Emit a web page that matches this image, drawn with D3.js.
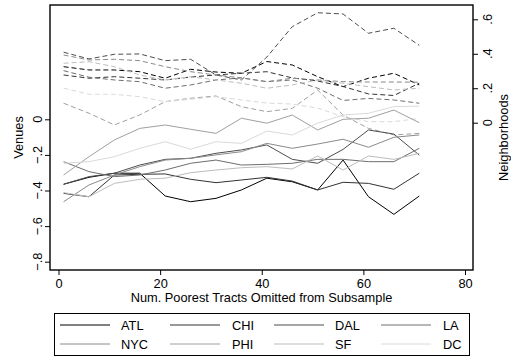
<!DOCTYPE html>
<html>
<head>
<meta charset="utf-8">
<script src="https://cdn.jsdelivr.net/npm/d3@7"></script>
<style>
  html, body { margin: 0; padding: 0; background: #fff; }
  svg { display: block; font-family: "Liberation Sans", Arial, Helvetica, sans-serif; }
</style>
</head>
<body>
<svg id="chart" width="511" height="358"></svg>
<script>
// Number of poorest tracts omitted from the subsample
const omitted = [1, 6, 11, 16, 21, 26, 31, 36, 41, 46, 51, 56, 61, 66, 71];

const cities = ["ATL", "CHI", "DAL", "LA", "NYC", "PHI", "SF", "DC"];
const cityColors = ["#000000", "#333333", "#4d4d4d", "#6e6e6e", "#8a8a8a", "#a0a0a0", "#bdbdbd", "#dadada"];

// Venue coefficients (left axis), one array per city
const venuesATL = [-0.365, -0.326, -0.303, -0.303, -0.431, -0.463, -0.444, -0.397, -0.331, -0.351, -0.397, -0.229, -0.435, -0.534, -0.431];
const venuesCHI = [-0.416, -0.435, -0.313, -0.309, -0.307, -0.337, -0.356, -0.341, -0.326, -0.347, -0.397, -0.354, -0.360, -0.393, -0.303];
const venuesDAL = [-0.365, -0.322, -0.303, -0.257, -0.225, -0.219, -0.191, -0.172, -0.144, -0.225, -0.247, -0.169, -0.060, -0.083, -0.201];
const venuesLA  = [-0.238, -0.294, -0.322, -0.313, -0.285, -0.247, -0.229, -0.257, -0.253, -0.247, -0.225, -0.225, -0.238, -0.238, -0.163];
const venuesNYC = [-0.463, -0.369, -0.313, -0.266, -0.229, -0.219, -0.200, -0.182, -0.135, -0.163, -0.139, -0.112, -0.157, -0.101, -0.088];
const venuesPHI = [-0.313, -0.210, -0.116, -0.051, -0.032, -0.056, -0.079, 0.006, -0.022, 0.024, -0.060, 0.000, 0.006, 0.052, -0.019];
const venuesSF  = [-0.412, -0.435, -0.360, -0.337, -0.331, -0.300, -0.285, -0.272, -0.266, -0.279, -0.206, -0.285, -0.206, -0.225, -0.191];
const venuesDC  = [-0.247, -0.238, -0.210, -0.163, -0.126, -0.168, -0.126, -0.135, -0.066, -0.088, -0.022, 0.024, 0.034, 0.071, 0.074];

// Neighborhood coefficients (right axis), one array per city
const hoodsATL = [0.325, 0.306, 0.306, 0.296, 0.258, 0.310, 0.294, 0.287, 0.355, 0.335, 0.267, 0.209, 0.258, 0.287, 0.219];
const hoodsCHI = [0.277, 0.258, 0.267, 0.258, 0.248, 0.265, 0.277, 0.287, 0.296, 0.260, 0.242, 0.210, 0.167, 0.158, 0.229];
const hoodsDAL = [0.409, 0.370, 0.397, 0.399, 0.360, 0.368, 0.277, 0.248, 0.381, 0.557, 0.638, 0.631, 0.519, 0.548, 0.449];
const hoodsLA  = [0.302, 0.264, 0.248, 0.238, 0.200, 0.219, 0.248, 0.260, 0.238, 0.248, 0.200, 0.129, 0.141, 0.132, 0.113];
const hoodsNYC = [0.393, 0.364, 0.368, 0.360, 0.325, 0.296, 0.277, 0.260, 0.238, 0.258, 0.248, 0.238, 0.236, 0.236, 0.235];
const hoodsPHI = [0.113, 0.055, -0.013, 0.045, 0.122, 0.142, 0.155, 0.093, 0.064, 0.083, 0.190, 0.044, -0.033, -0.071, -0.062];
const hoodsSF  = [0.345, 0.354, 0.325, 0.277, 0.248, 0.267, 0.248, 0.229, 0.200, 0.219, 0.248, 0.229, 0.209, 0.190, 0.200];
const hoodsDC  = [0.200, 0.165, 0.165, 0.151, 0.122, 0.136, 0.151, 0.132, 0.114, 0.108, 0.085, 0.035, 0.006, 0.006, 0.025];

const venues = [venuesATL, venuesCHI, venuesDAL, venuesLA, venuesNYC, venuesPHI, venuesSF, venuesDC];
const hoods  = [hoodsATL, hoodsCHI, hoodsDAL, hoodsLA, hoodsNYC, hoodsPHI, hoodsSF, hoodsDC];

const xTicks = [0, 20, 40, 60, 80];
const leftTicks = [-0.8, -0.6, -0.4, -0.2, 0];
const rightTicks = [0, 0.2, 0.4, 0.6];
const fmt = v => v === 0 ? "0" : d3.format(".1f")(v).replace("0.", ".");

const svg = d3.select("#chart");
const plot = { left: 50, right: 473, top: 5, bottom: 270 };

const x = d3.scaleLinear().domain([0, 80]).range([58.5, 465]);
const yL = d3.scaleLinear().domain([-0.8, 0]).range([261.7, 119.3]);
const yR = d3.scaleLinear().domain([0, 0.6]).range([122.7, 19.3]);

const font = 12.8;

// Series lines: neighborhoods dashed (right axis), venues solid (left axis)
const gLines = svg.append("g");
hoods.forEach((vals, i) => {
  const line = d3.line().x((d, j) => x(omitted[j])).y(d => yR(d));
  gLines.append("path").datum(vals)
    .attr("d", line).attr("fill", "none")
    .attr("stroke", cityColors[i]).attr("stroke-width", 1)
    .attr("stroke-dasharray", "5,3");
});
venues.forEach((vals, i) => {
  const line = d3.line().x((d, j) => x(omitted[j])).y(d => yL(d));
  gLines.append("path").datum(vals)
    .attr("d", line).attr("fill", "none")
    .attr("stroke", cityColors[i]).attr("stroke-width", 1);
});

// Plot frame
svg.append("rect")
  .attr("x", plot.left).attr("y", plot.top)
  .attr("width", plot.right - plot.left).attr("height", plot.bottom - plot.top)
  .attr("fill", "none").attr("stroke", "#000").attr("stroke-width", 1.4);

// Bottom axis
const xAxis = svg.append("g").attr("transform", `translate(0,${plot.bottom})`)
  .call(d3.axisBottom(x).tickValues(xTicks).tickSize(5).tickPadding(4).tickFormat(d3.format("d")));
xAxis.select(".domain").remove();
xAxis.selectAll("text").attr("font-size", font).attr("fill", "#000").style("font-family", "Liberation Sans, Arial, sans-serif");
xAxis.selectAll("line").attr("stroke", "#000");

// Left axis (rotated labels)
const lAxis = svg.append("g").attr("transform", `translate(${plot.left},0)`)
  .call(d3.axisLeft(yL).tickValues(leftTicks).tickSize(5).tickFormat(""));
lAxis.select(".domain").remove();
lAxis.selectAll("line").attr("stroke", "#000");
svg.append("g").selectAll("text").data(leftTicks).join("text")
  .attr("transform", d => `translate(37,${yL(d)}) rotate(-90)`)
  .attr("text-anchor", "middle").attr("dominant-baseline", "central")
  .attr("font-size", font).text(fmt);

// Right axis (rotated labels)
const rAxis = svg.append("g").attr("transform", `translate(${plot.right},0)`)
  .call(d3.axisRight(yR).tickValues(rightTicks).tickSize(5).tickFormat(""));
rAxis.select(".domain").remove();
rAxis.selectAll("line").attr("stroke", "#000");
svg.append("g").selectAll("text").data(rightTicks).join("text")
  .attr("transform", d => `translate(487,${yR(d)}) rotate(-90)`)
  .attr("text-anchor", "middle").attr("dominant-baseline", "central")
  .attr("font-size", font).text(fmt);

// Axis titles
svg.append("text").attr("transform", `translate(18,${(plot.top + plot.bottom) / 2}) rotate(-90)`)
  .attr("text-anchor", "middle").attr("dominant-baseline", "central")
  .attr("font-size", font).text("Venues");
svg.append("text").attr("transform", `translate(503,${(plot.top + plot.bottom) / 2}) rotate(-90)`)
  .attr("text-anchor", "middle").attr("dominant-baseline", "central")
  .attr("font-size", font).text("Neighborhoods");
svg.append("text").attr("x", (plot.left + plot.right) / 2).attr("y", 302)
  .attr("text-anchor", "middle").attr("font-size", font)
  .text("Num. Poorest Tracts Omitted from Subsample");

// Legend
const legend = svg.append("g");
legend.append("rect").attr("x", 54.5).attr("y", 313.5).attr("width", 415).attr("height", 42)
  .attr("fill", "#fff").attr("stroke", "#000").attr("stroke-width", 1);
const colLine = [60, 170, 274, 381];
const colText = [121, 232, 335, 443];
const rowY = [325, 344];
cities.forEach((c, i) => {
  const col = i % 4, row = Math.floor(i / 4);
  legend.append("line")
    .attr("x1", colLine[col]).attr("x2", colLine[col] + 50)
    .attr("y1", rowY[row]).attr("y2", rowY[row])
    .attr("stroke", cityColors[i]).attr("stroke-width", 1);
  legend.append("text").attr("x", colText[col]).attr("y", rowY[row])
    .attr("dominant-baseline", "central").attr("font-size", font).text(c);
});
</script>
</body>
</html>
